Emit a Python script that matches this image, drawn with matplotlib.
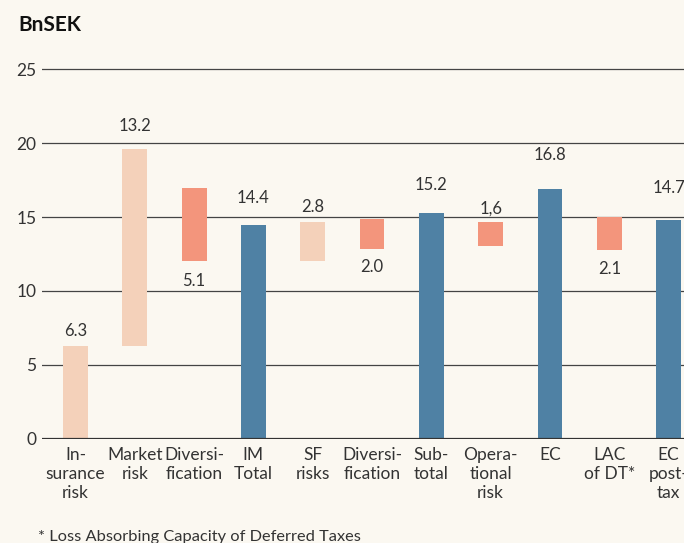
import matplotlib
matplotlib.use("Agg")
import matplotlib.pyplot as plt

# waterfall steps, BnSEK (bar ends)
categories = ["In-\nsurance\nrisk", "Market\nrisk", "Diversi-\nfication", "IM\nTotal",
              "SF\nrisks", "Diversi-\nfication", "Sub-\ntotal", "Opera-\ntional\nrisk",
              "EC", "LAC\nof DT*", "EC\npost-\ntax"]
value_labels = ["6.3", "13.2", "5.1", "14.4", "2.8", "2.0", "15.2", "1,6", "16.8", "2.1", "14.7"]
bar_low = [0, 6.3, 12.0, 0, 12.0, 12.85, 0, 13.05, 0, 12.8, 0]
bar_high = [6.3, 19.6, 17.0, 14.45, 14.7, 14.9, 15.25, 14.65, 16.9, 15.0, 14.8]
kind = ["add", "add", "sub", "total", "add", "sub", "total", "sub", "total", "sub", "total"]

colors = {"add": "#F4D1BA", "sub": "#F3957C", "total": "#4F81A4"}
bg = "#FBF8F1"
txt = "#333333"

plt.rcParams["font.family"] = ["Lato", "DejaVu Sans"]

fig = plt.figure(figsize=(6.84, 5.43), dpi=100, facecolor=bg)
ax = fig.add_axes([42 / 684, 0.1921, 1 - 42 / 684, 0.6884])
ax.set_facecolor(bg)

x = list(range(len(categories)))
heights = [h - l for l, h in zip(bar_low, bar_high)]
ax.bar(x, heights, bottom=bar_low, width=0.42,
       color=[colors[k] for k in kind], zorder=3)

# value labels: above the bar, below for the deductions
offsets = [5, 11, -8, 14, 5, -7, 15, 4, 19, -8, 17]
for i, lab in enumerate(value_labels):
    off = offsets[i]
    yref = bar_high[i] if off > 0 else bar_low[i]
    ax.annotate(lab, (x[i], yref), xytext=(0, off), textcoords="offset points",
                ha="center", va="bottom" if off > 0 else "top",
                fontsize=12, color=txt)

ax.set_xlim(-0.565, 10.26)
ax.set_ylim(0, 25.3)
ax.set_yticks([0, 5, 10, 15, 20, 25])
ax.yaxis.grid(True, color="#444444", lw=0.9, zorder=1)
ax.axhline(0, color="#333333", lw=1.6, zorder=4)
for s in ax.spines.values():
    s.set_visible(False)
ax.tick_params(axis="y", length=0, pad=4, labelsize=12.5, labelcolor=txt)
ax.tick_params(axis="x", length=0, pad=6, labelsize=12.5, labelcolor=txt)
ax.set_xticks(x)
ax.set_xticklabels(categories, linespacing=1.22)

fig.text(18 / 684, 1 - 25 / 543, "BnSEK", fontsize=15, fontweight="bold",
         color="#111111", va="center")
fig.text(38 / 684, 1 - 537 / 543, "* Loss Absorbing Capacity of Deferred Taxes",
         fontsize=11.8, color=txt, va="center")

fig.savefig("out.png", dpi=100, facecolor=bg)
